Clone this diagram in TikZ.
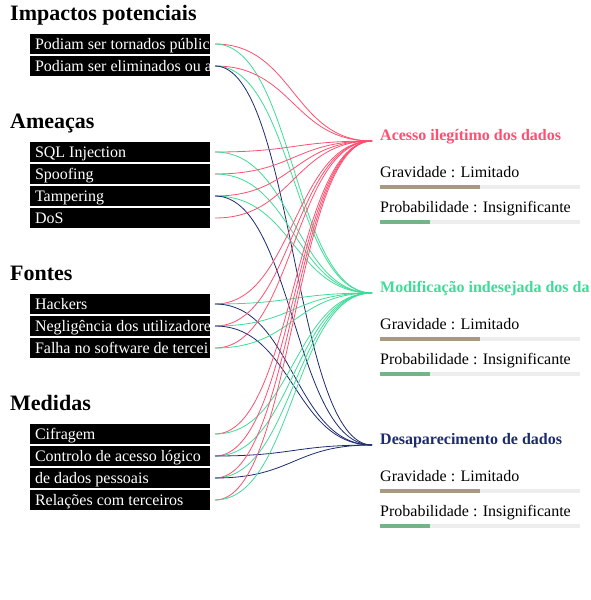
\documentclass[tikz,border=0pt]{standalone}
\usepackage{fontspec}
\setmainfont{Liberation Serif}
\usetikzlibrary{positioning}
\definecolor{acesso}{HTML}{FF4F70}
\definecolor{modif}{HTML}{3DDC97}
\definecolor{desap}{HTML}{1C2B6E}
\definecolor{bargray}{HTML}{EDEDED}
\definecolor{gravbar}{HTML}{A89A7E}
\definecolor{probbar}{HTML}{77B389}
\tikzset{
  heading/.style={anchor=base west, inner sep=0pt, font=\fontsize{22}{26}\selectfont\bfseries},
  itembox/.style={fill=black, anchor=north west, minimum width=180pt, minimum height=20pt,
    inner sep=0pt, outer sep=0pt,
    path picture={\node[anchor=base west, inner sep=0pt, minimum width=0pt, minimum height=0pt,
        fill=none, text=white, font=\fontsize{16}{19}\selectfont]
      at ([xshift=5pt,yshift=-5pt]path picture bounding box.west) {#1};}},
  risktitle/.style={anchor=base west, inner sep=0pt, font=\fontsize{16}{19}\selectfont\bfseries},
  risklabel/.style={anchor=base west, inner sep=0pt, font=\fontsize{16}{19}\selectfont},
  link/.style={line width=0.8pt}
}

\begin{document}
\begin{tikzpicture}[x=1pt, y=-1pt]
\clip (0,0) rectangle (590,600);
% section headings
\node[heading] (h-imp) at (10,20.5) {Impactos potenciais};
\node[heading] (h-ame) at (10,128) {Ameaças};
\node[heading] (h-fon) at (10,280) {Fontes};
\node[heading] (h-med) at (10,410) {Medidas};
% black item boxes
\foreach \name/\top/\txt in {pub/34/Podiam ser tornados públic, elim/56/Podiam ser eliminados ou a,
    sql/142/SQL Injection, spoof/164/Spoofing, tamper/186/Tampering, dos/208/DoS,
    hackers/294/Hackers, neglig/316/Negligência dos utilizadore, falha/338/Falha no software de tercei,
    cifra/424/Cifragem, controlo/446/Controlo de acesso lógico, dadosp/468/de dados pessoais,
    relacoes/490/Relações com terceiros}
  \node[itembox={\txt}] (\name) at (30,\top) {};
% risks with their two bars
\foreach \name/\y/\txt in {acesso/140/Acesso ilegítimo dos dados,
    modif/292/Modificação indesejada dos da, desap/444/Desaparecimento de dados} {
  \node[risktitle, text=\name] (\name) at (380,\y) {\txt};
  \coordinate (\name-in) at (372,{\y+1});
  \node[risklabel] (\name-grav) at (380,{\y+37}) {Gravidade : Limitado};
  \fill[bargray] (380,{\y+45}) rectangle (580,{\y+49});
  \fill[gravbar] (380,{\y+45}) rectangle (480,{\y+49});
  \node[risklabel] (\name-prob) at (380,{\y+72}) {Probabilidade : Insignificante};
  \fill[bargray] (380,{\y+80}) rectangle (580,{\y+84});
  \fill[probbar] (380,{\y+80}) rectangle (430,{\y+84});
}
% links
\foreach \src/\dst in {pub/acesso, pub/modif, elim/acesso, elim/modif, elim/desap,
    sql/acesso, sql/modif, spoof/acesso, spoof/modif, tamper/acesso, tamper/modif, tamper/desap,
    dos/acesso, hackers/acesso, hackers/modif, hackers/desap, neglig/acesso, neglig/modif, neglig/desap,
    falha/acesso, falha/modif, cifra/acesso, cifra/modif, controlo/acesso, controlo/modif, controlo/desap,
    dadosp/acesso, dadosp/modif, dadosp/desap, relacoes/acesso, relacoes/modif}
  \draw[link, \dst] ([xshift=5pt]\src.east) .. controls +(78.5,0) and +(-78.5,0) .. (\dst-in);
\end{tikzpicture}
\end{document}
